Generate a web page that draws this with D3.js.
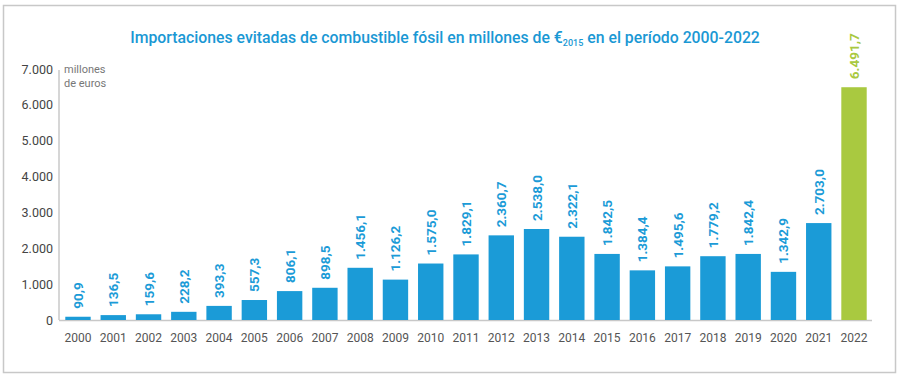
<!DOCTYPE html>
<html>
<head>
<meta charset="utf-8">
<script src="https://cdn.jsdelivr.net/npm/d3@7"></script>
<style>
  body { margin:0; background:#fff; }
  svg text { font-family: Roboto, "Noto Sans", sans-serif; }
</style>
</head>
<body>
<div id="vis-container"></div>
<script>
//data
let years = ["2000","2001","2002","2003","2004","2005","2006","2007","2008","2009","2010","2011",
  "2012","2013","2014","2015","2016","2017","2018","2019","2020","2021","2022"];
let values = [90.9,136.5,159.6,228.2,393.3,557.3,806.1,898.5,1456.1,1126.2,1575.0,1829.1,
  2360.7,2538.0,2322.1,1842.5,1384.4,1495.6,1779.2,1842.4,1342.9,2703.0,6491.7];
let yTicks = [0,1000,2000,3000,4000,5000,6000,7000];

let blue = "#1b9bd7", green = "#a9c940";

let W = 899, H = 376;
let margin = {top:69, right:27, bottom:56, left:60};
let width = W - margin.left - margin.right;
let height = H - margin.top - margin.bottom;

let svg = d3.select("#vis-container")
  .append("svg")
  .attr("width", W)
  .attr("height", H);

//frame
svg.append("rect")
  .attr("x", 3.5).attr("y", 5.5)
  .attr("width", 892).attr("height", 367)
  .attr("fill", "none")
  .attr("stroke", "#c8c8c8")
  .attr("stroke-width", 1.5);

//title
let title = svg.append("text")
  .attr("x", 445).attr("y", 43)
  .attr("text-anchor", "middle")
  .attr("fill", "#1a98d4")
  .attr("font-size", "15.8px")
  .attr("font-weight", 500);
title.append("tspan").text("Importaciones evitadas de combustible fósil en millones de €");
title.append("tspan").attr("font-size", "9px").attr("dy", 3).text("2015");
title.append("tspan").attr("dy", -3).text(" en el período 2000-2022");

let g = svg.append("g")
  .attr("transform", `translate(${margin.left}, ${margin.top})`);

//scales
let x = d3.scaleBand()
  .domain(years)
  .range([0, 812])
  .paddingInner(0.28)
  .paddingOuter(0.15);

let y = d3.scaleLinear()
  .domain([0, 7000])
  .range([height, 0]);

let fmt = d3.formatLocale({decimal:",", thousands:".", grouping:[3], currency:["","€"]});

//y axis
let yAxis = d3.axisLeft(y)
  .tickValues(yTicks)
  .tickSize(0)
  .tickPadding(7)
  .tickFormat(fmt.format(",.0f"));

let yAxisGroup = g.append("g").call(yAxis);
yAxisGroup.select(".domain").remove();
yAxisGroup.selectAll("text")
  .attr("font-size", "12.5px")
  .attr("fill", "#444")
  .attr("font-family", "Roboto, sans-serif");

g.append("line")
  .attr("x1", -1).attr("x2", -1)
  .attr("y1", 1).attr("y2", height)
  .attr("stroke", "#c8c8c8").attr("stroke-width", 1.5);

//x axis
let xAxis = d3.axisBottom(x).tickSize(0).tickPadding(13);
let xAxisGroup = g.append("g")
  .attr("transform", `translate(0,${height})`)
  .call(xAxis);
xAxisGroup.select(".domain").remove();
xAxisGroup.selectAll("text")
  .attr("font-size", "12px")
  .attr("fill", "#555")
  .attr("font-family", "Roboto, sans-serif");

g.append("line")
  .attr("x1", -1).attr("x2", 812)
  .attr("y1", height + 0.5).attr("y2", height + 0.5)
  .attr("stroke", "#c8c8c8").attr("stroke-width", 1.5);

//unit label
let unit = g.append("text")
  .attr("x", 4).attr("y", 4)
  .attr("font-size", "11px")
  .attr("fill", "#777");
unit.append("tspan").attr("x", 4).text("millones");
unit.append("tspan").attr("x", 4).attr("dy", 14).text("de euros");

//bars
let data = years.map((d, i) => ({year: d, value: values[i]}));

g.selectAll("rect.bar")
  .data(data)
  .enter()
  .append("rect")
  .attr("class", "bar")
  .attr("x", d => x(d.year))
  .attr("width", x.bandwidth())
  .attr("y", d => y(d.value))
  .attr("height", d => height - y(d.value))
  .attr("fill", d => d.year === "2022" ? green : blue);

//value labels
g.selectAll("text.value-label")
  .data(data)
  .enter()
  .append("text")
  .attr("class", "value-label")
  .attr("transform", d => `translate(${x(d.year) + x.bandwidth()/2 + 5}, ${y(d.value) - 8}) rotate(-90)`)
  .attr("font-size", "13.5px")
  .attr("font-weight", 700)
  .attr("fill", d => d.year === "2022" ? green : blue)
  .text(d => fmt.format(",.1f")(d.value));
</script>
</body>
</html>
